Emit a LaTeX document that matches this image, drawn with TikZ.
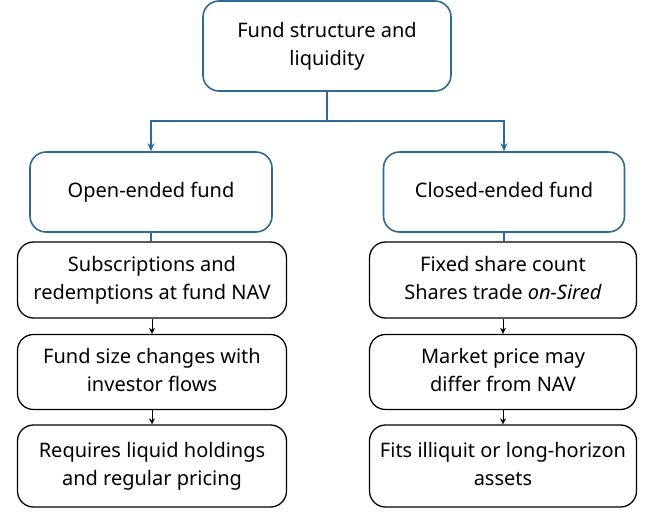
\documentclass[tikz,border=0pt]{standalone}
\usepackage{fontspec}
\setmainfont{Noto Sans}
\usetikzlibrary{arrows.meta}
\definecolor{bl}{HTML}{2E6A96}
\begin{document}
\begin{tikzpicture}[x=1pt,y=-1pt,
 bbox/.style={draw=bl,line width=1.6pt,rounded corners=16pt,align=center,font=\fontsize{20}{28}\selectfont,inner sep=0pt},
 kbox/.style={draw=black,line width=1.3pt,rounded corners=16pt,align=center,font=\fontsize{20}{28}\selectfont,inner sep=0pt},
 blink/.style={draw=bl,line width=1.6pt},
 barr/.style={draw=bl,line width=1.6pt,-{Stealth[length=8pt,width=7pt]}},
 karr/.style={draw=black,line width=1pt,-{Stealth[length=6pt,width=6pt]}}]
\useasboundingbox (0,0) rectangle (656,512);
\node[bbox,minimum width=248pt,minimum height=90pt] (top) at (327,46) {\strut Fund structure and\\liquidity\strut};
\node[bbox,minimum width=242pt,minimum height=80pt] (open) at (151,192) {\strut Open-ended fund};
\node[bbox,minimum width=241pt,minimum height=80pt] (closed) at (504,192) {\strut Closed-ended fund};
\node[kbox,minimum width=269pt,minimum height=76pt] (l1) at (152,280) {\strut Subscriptions and\\redemptions at fund NAV\strut};
\node[kbox,minimum width=269pt,minimum height=75pt] (l2) at (152,372) {\strut Fund size changes with\\investor flows\strut};
\node[kbox,minimum width=269pt,minimum height=82pt] (l3) at (152,466) {\strut Requires liquid holdings\\and regular pricing\strut};
\node[kbox,minimum width=267pt,minimum height=76pt] (r1) at (503,280) {\strut Fixed share count\\Shares trade \textit{on-Sired}\strut};
\node[kbox,minimum width=267pt,minimum height=75pt] (r2) at (503,372) {\strut Market price may\\differ from NAV\strut};
\node[kbox,minimum width=267pt,minimum height=82pt] (r3) at (503,466) {\strut Fits illiquit or long-horizon\\assets\strut};
\coordinate (j) at (327,121);
\draw[blink] (top.south) -- (j);
\draw[barr] (j) -| (open.north);
\draw[barr] (j) -| (closed.north);
\draw[blink] (open.south) -- (l1.north -| open.south);
\draw[blink] (closed.south) -- (r1.north -| closed.south);
\draw[karr] (l1.south) -- (l2.north);
\draw[karr] (l2.south) -- (l3.north);
\draw[karr] (r1.south) -- (r2.north);
\draw[karr] (r2.south) -- (r3.north);
\end{tikzpicture}
\end{document}
